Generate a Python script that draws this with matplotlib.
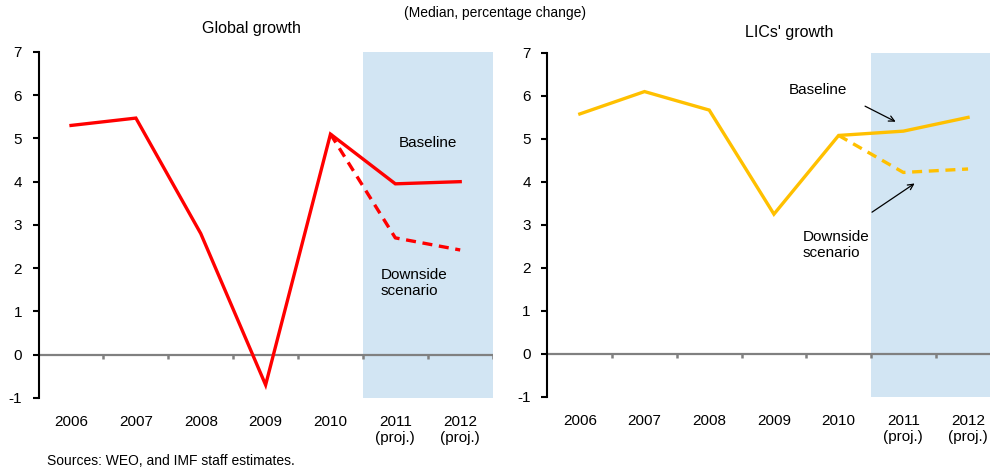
import matplotlib
matplotlib.use("Agg")
import matplotlib.pyplot as plt

plt.rcParams['font.family'] = ['Liberation Sans', 'DejaVu Sans']
plt.rcParams['axes.unicode_minus'] = False

years = ["2006", "2007", "2008", "2009", "2010", "2011\n(proj.)", "2012\n(proj.)"]
global_baseline = [5.3, 5.47, 2.8, -0.7, 5.1, 3.95, 4.0]
global_downside = [5.1, 2.7, 2.42]
lic_baseline = [5.58, 6.1, 5.67, 3.25, 5.08, 5.18, 5.5]
lic_downside = [5.08, 4.22, 4.3]
yticks = [-1, 0, 1, 2, 3, 4, 5, 6, 7]

fig = plt.figure(figsize=(9.9, 4.72), dpi=100)
ax1 = fig.add_axes([0.039, 0.157, 0.4586, 0.733])
ax2 = fig.add_axes([0.553, 0.159, 0.4575, 0.729])

def style(ax, base, down, color):
    x = list(range(len(base)))
    ax.set_xlim(-0.5, len(base) - 0.5)
    ax.set_ylim(-1, 7)
    ax.axvspan(4.5, len(base) - 0.5, color='#d2e5f3', zorder=0, lw=0)
    ax.axhline(0, color='#808080', lw=1.6, zorder=1)
    bounds = [i + 0.5 for i in range(len(base))]
    ax.vlines(bounds, -0.09, 0, color='#808080', lw=1.8, zorder=1)
    ax.plot(x, base, color=color, lw=2.4, zorder=3, solid_joinstyle='miter')
    ax.plot(x[4:], down, color=color, lw=2.4, ls=(0, (3, 2)), zorder=3)
    for s in ['top', 'right', 'bottom']:
        ax.spines[s].set_visible(False)
    ax.spines['left'].set_linewidth(1.5)
    ax.set_yticks(yticks)
    ax.set_xticks(x)
    ax.set_xticklabels(years)
    ax.tick_params(axis='x', length=0, pad=12, labelsize=11)
    ax.tick_params(axis='y', length=4, width=1.5, direction='out', pad=8, labelsize=11)

style(ax1, global_baseline, global_downside, '#ff0000')
style(ax2, lic_baseline, lic_downside, '#ffc000')

fig.text(0.254, 0.94, "Global growth", ha='center', va='center', fontsize=11.5)
fig.text(0.797, 0.932, "LICs' growth", ha='center', va='center', fontsize=11.5)
fig.text(0.5, 0.972, "(Median, percentage change)", ha='center', va='center', fontsize=10)
fig.text(0.047, 0.023, "Sources: WEO, and IMF staff estimates.", ha='left', va='center', fontsize=10)

ax1.text(5.05, 4.9, "Baseline", ha='left', va='center', fontsize=11)
ax1.text(4.77, 1.65, "Downside\nscenario", ha='left', va='center', fontsize=11, linespacing=1.2)

ax2.text(3.23, 6.14, "Baseline", ha='left', va='center', fontsize=11)
ax2.annotate("", xy=(4.92, 5.37), xytext=(4.37, 5.79),
             arrowprops=dict(arrowstyle='->', color='black', lw=0.9))
ax2.text(3.45, 2.53, "Downside\nscenario", ha='left', va='center', fontsize=11, linespacing=1.2)
ax2.annotate("", xy=(5.21, 4.0), xytext=(4.48, 3.26),
             arrowprops=dict(arrowstyle='->', color='black', lw=0.9))

fig.savefig("out.png", dpi=100)
